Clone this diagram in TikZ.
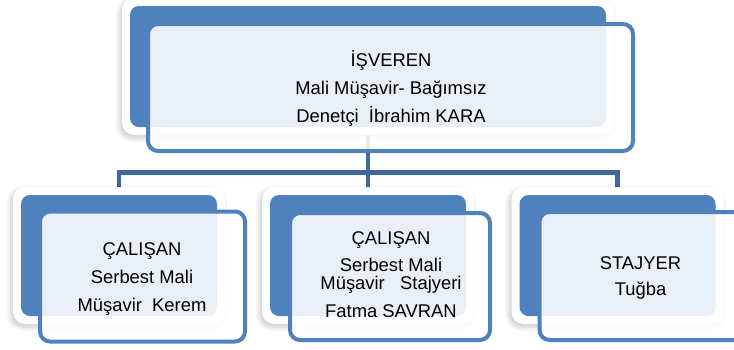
\documentclass[tikz,border=0pt]{standalone}
\usepackage{fontspec}
\setmainfont{Liberation Sans}
\usetikzlibrary{shadows.blur,backgrounds}
\definecolor{accblue}{HTML}{4F81BD}
\definecolor{connblue}{RGB}{61,104,153}
\begin{document}
\begin{tikzpicture}[x=1pt,y=-1pt,
  card/.style={fill=white, rounded corners=12pt, inner sep=0pt,
    blur shadow={shadow xshift=-2pt, shadow yshift=-3pt, shadow blur radius=5pt, shadow blur steps=10, shadow opacity=22}},
  backbox/.style={fill=accblue, rounded corners=9pt, inner sep=0pt},
  frontbox/.style={draw=accblue, line width=4pt, fill=white, fill opacity=0.88, rounded corners=10pt, inner sep=0pt},
  boxtext/.style={font=\fontsize{18.4}{28}\selectfont, align=center, text=black, inner sep=0pt},
  conn/.style={draw=connblue, line width=4.5pt}
]
\useasboundingbox (0,0) rectangle (734,349);
\clip (0,0) rectangle (734,349);
\coordinate (bus) at (0,172.5);

% top unit
\node[card, minimum width=492pt, minimum height=137pt] (topcard) at (368,66.5) {};
\node[backbox, minimum width=476pt, minimum height=121pt] (topb) at (368,66.5) {};
\node[frontbox, minimum width=485pt, minimum height=127pt] (topf) at (390.5,87.5) {};
\node[boxtext] (topt) at (391,88.5) {İŞVEREN\\Mali Müşavir- Bağımsız\\Denetçi\ \ İbrahim KARA};

% child 1
\node[card, minimum width=212pt, minimum height=137pt] (c1card) at (119,255.5) {};
\node[backbox, minimum width=196pt, minimum height=121pt] (c1b) at (119,255.5) {};
\node[frontbox, minimum width=205pt, minimum height=130pt] (c1f) at (142.5,276.5) {};
\node[boxtext] (c1t) at (142,278.8) {ÇALIŞAN\\Serbest Mali\\Müşavir\ \ Kerem};

% child 2
\node[card, minimum width=212pt, minimum height=137pt] (c2card) at (368,255.5) {};
\node[backbox, minimum width=196pt, minimum height=121pt] (c2b) at (368,255.5) {};
\node[frontbox, minimum width=200pt, minimum height=127pt] (c2f) at (390,276.5) {};
\node[boxtext] (c2t) at (391,275) {ÇALIŞAN\\[-1.3pt]Serbest Mali\\[-9.7pt]Müşavir\ \ \ Stajyeri\\Fatma SAVRAN};

% child 3
\node[card, minimum width=212pt, minimum height=137pt] (c3card) at (617.5,255.5) {};
\node[backbox, minimum width=196pt, minimum height=121pt] (c3b) at (617.5,255.5) {};
\node[frontbox, minimum width=205pt, minimum height=128pt] (c3f) at (642,276) {};
\node[boxtext] (c3t) at (640.5,278.4) {STAJYER\\[-2pt]Tuğba};

% connectors
\begin{scope}[on background layer]
\draw[conn] (topb.south) -- (topb.south |- bus);
\draw[conn] (c1b.north) -- (c1b.north |- bus) -- (c3b.north |- bus) -- (c3b.north);
\draw[conn] (c2b.north) -- (c2b.north |- bus);
\end{scope}
\end{tikzpicture}
\end{document}
